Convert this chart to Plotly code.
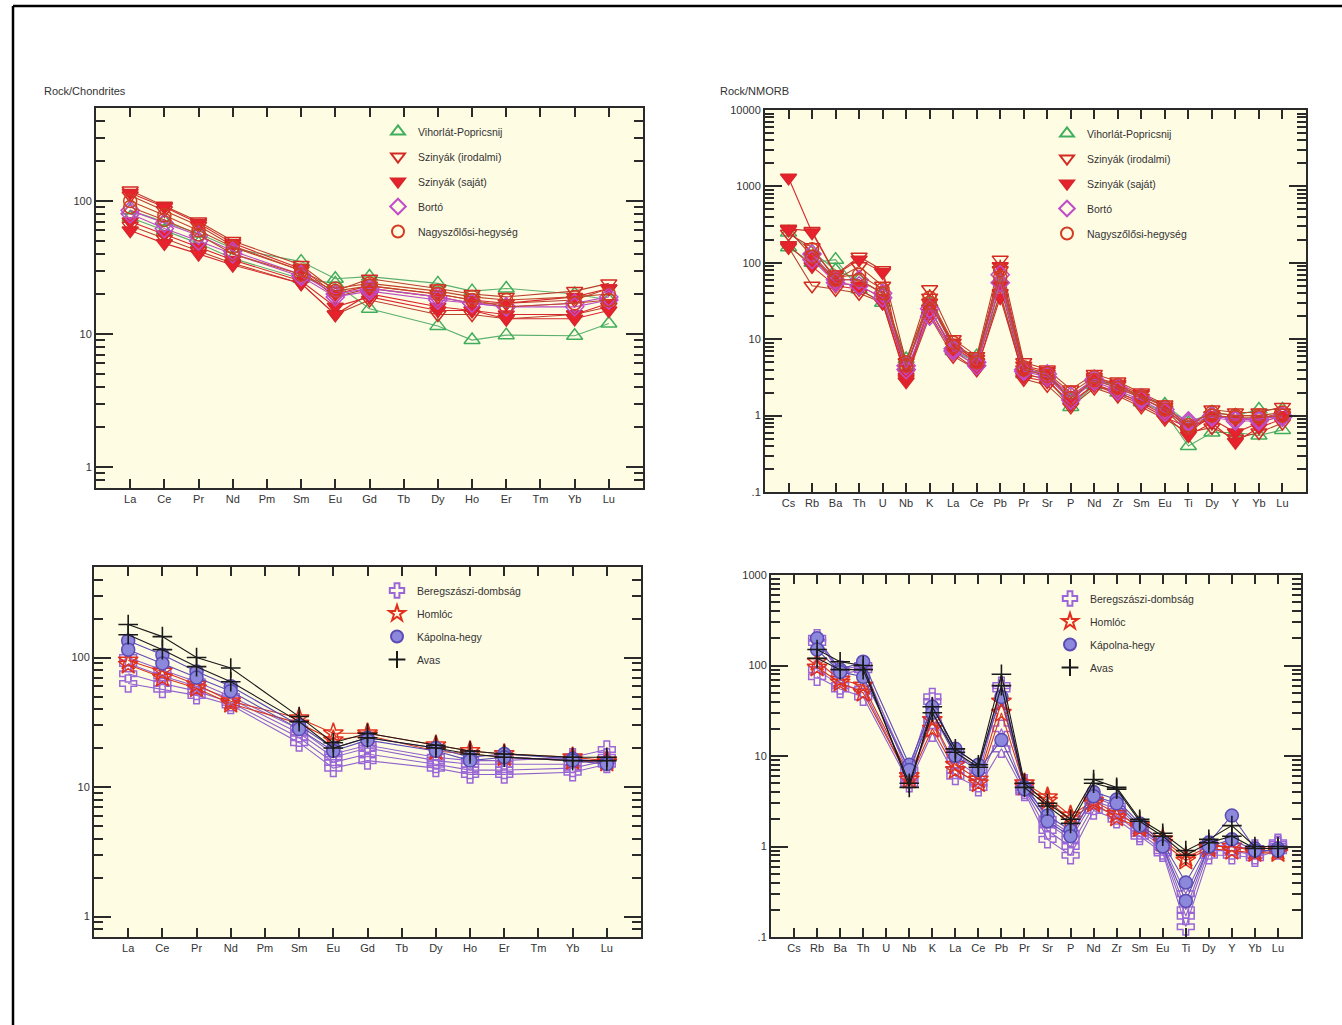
import math
import plotly.graph_objects as go

# ---------------------------------------------------------------- element labels
REE = ["La", "Ce", "Pr", "Nd", "Pm", "Sm", "Eu", "Gd", "Tb", "Dy", "Ho", "Er", "Tm", "Yb", "Lu"]
SPIDER = ["Cs", "Rb", "Ba", "Th", "U", "Nb", "K", "La", "Ce", "Pb", "Pr", "Sr", "P",
          "Nd", "Zr", "Sm", "Eu", "Ti", "Dy", "Y", "Yb", "Lu"]
N = None

# ---------------------------------------------------- chondrite-normalised REE (upper)
vihorlat_ree = [
    [75, 60, 48, 37, N, 26, 24, 15.5, N, 11.5, 9, 9.8, N, 9.7, 12],
    [85, 70, 57, 44, N, 35, 26, 27, N, 24, 21, 22, N, 20, 18],
]
szinyak_irod_ree = [
    [120, 92, 70, 50, N, 33, 21, 26, N, 22, 20, 19, N, 21, 24],
    [110, 85, 65, 46, N, 30, 19, 22, N, 19, 17, 17, N, 18, 22],
    [65, 52, 42, 34, N, 24, 14, 18, N, 14, 14, 13, N, 14, 16],
]
szinyak_sajat_ree = [
    [115, 90, 68, 48, N, 31, 20, 23, N, 20, 18, 17, N, 19, 22],
    [70, 56, 45, 36, N, 25, 16, 19, N, 15, 15, 14, N, 14, 17],
    [60, 48, 40, 33, N, 24, 14, 20, N, 16, 15, 13, N, 13, 15],
]
borto_ree = [
    [85, 68, 55, 42, N, 28, 20, 22, N, 19, 17, 16, N, 17, 19],
    [80, 62, 50, 40, N, 27, 19, 21, N, 18, 17, 16, N, 16, 18],
]
nagyszolos_ree = [
    [100, 78, 60, 45, N, 30, 22, 24, N, 21, 19, 18, N, 19, 20],
    [90, 72, 56, 40, N, 28, 21, 23, N, 20, 18, 16, N, 17, 18],
]

# ---------------------------------------------------------- N-MORB normalised (upper)
vihorlat_sp = [
    [160, 100, 110, 45, 30, 4.5, 25, 7, 5, 40, 3.5, 3, 1.3, 2.5, 2.0, 1.5, 1.1, 0.4, 0.6, 0.6, 0.55, 0.65],
    [250, 140, 80, 60, 40, 5.5, 30, 8, 6, 60, 4, 3.5, 1.6, 3, 2.4, 1.8, 1.4, 0.8, 1.1, 1.0, 1.2, 1.2],
]
szinyak_irod_sp = [
    [280, 260, 70, 120, 80, 5, 45, 10, 6, 110, 5, 4, 2.2, 3.5, 2.8, 2.0, 1.4, 0.7, 1.2, 1.1, 1.1, 1.3],
    [240, 160, 60, 90, 50, 4, 35, 8, 5.5, 80, 4, 3.5, 1.8, 3, 2.5, 1.7, 1.2, 0.6, 1.0, 0.9, 0.9, 1.1],
    [160, 50, 45, 40, 30, 3, 20, 6, 4, 40, 3, 2.5, 1.3, 2.3, 1.8, 1.3, 0.9, 0.6, 0.7, 0.5, 0.6, 0.8],
]
szinyak_sajat_sp = [
    [1300, 250, 70, 110, 75, 2.8, 30, 9, 5, 90, 4.5, 3.8, 1.5, 3.2, 2.6, 1.9, 1.3, 0.65, 1.0, 0.9, 0.9, 1.0],
    [270, 120, 55, 50, 35, 3.5, 25, 7, 4.5, 50, 3.5, 3, 1.4, 2.6, 2.0, 1.5, 1.0, 0.55, 0.8, 0.45, 0.7, 0.9],
    [170, 90, 50, 45, 30, 3.2, 22, 6.5, 4, 35, 3.2, 2.8, 1.5, 2.5, 1.9, 1.4, 0.95, 0.7, 0.9, 0.6, 0.8, 1.0],
]
borto_sp = [
    [N, 130, 60, 60, 40, 4.5, 25, 7.5, 5, 70, 4, 3.5, 1.8, 3, 2.3, 1.7, 1.2, 0.85, 1.0, 0.9, 0.9, 1.0],
    [N, 110, 55, 50, 35, 4, 20, 7, 4.5, 55, 3.8, 3.2, 1.6, 2.8, 2.1, 1.6, 1.1, 0.8, 0.95, 0.85, 0.85, 0.95],
]
nagyszolos_sp = [
    [N, 150, 65, 70, 45, 5, 35, 9, 5.5, 80, 4.3, 3.6, 2.0, 3.2, 2.5, 1.8, 1.3, 0.75, 1.1, 1.0, 1.0, 1.1],
    [N, 120, 60, 60, 40, 4.5, 30, 8, 5, 65, 4, 3.3, 1.7, 2.9, 2.3, 1.7, 1.2, 0.7, 1.0, 0.95, 0.95, 1.0],
]

# ---------------------------------------------------- chondrite-normalised REE (lower)
beregszasz_ree = [
    [63, 57, 51, 43, N, 22, 14, 16, N, 14, 12.5, 12.5, N, 13, 15],
    [75, 63, 55, 45, N, 24, 15.5, 18, N, 15, 13.5, 13.5, N, 14, 16],
    [90, 72, 60, 48, N, 26, 17, 20, N, 16, 15, 15, N, 15, 17],
    [100, 80, 65, 50, N, 28, 18, 21, N, 17, 16, 16, N, 17, 19.5],
]
homloc_ree = [
    [95, 78, 62, 46, N, 34, 26, 26, N, 21, 19, 18, N, 17, 16],
    [88, 70, 58, 44, N, 31, 23, 25, N, 19, 18, 17, N, 16, 15.5],
]
kapolna_ree = [
    [135, 105, 78, 60, N, 30, 20, 24, N, 20, 17, 18, N, 16.5, 15.5],
    [115, 90, 70, 55, N, 28, 19, 23, N, 19, 16, 17, N, 16, 15],
]
avas_ree = [
    [180, 145, 100, 83, N, 35, 22, 26, N, 21, 19, 18, N, 17, 17],
    [150, 115, 85, 65, N, 32, 20, 24, N, 20, 18, 17, N, 16, 16],
]

# ---------------------------------------------------------- N-MORB normalised (lower)
beregszasz_sp = [
    [N, 75, 55, 45, N, 5, 18, 6, 4.5, 12, 4, 1.2, 0.8, 2.5, 2, 1.3, 0.85, 0.13, 0.8, 0.8, 0.75, 0.9],
    [N, 90, 60, 55, N, 5.5, 25, 7, 5, 20, 4.2, 1.5, 1.0, 2.8, 2.2, 1.4, 0.9, 0.17, 0.9, 0.9, 0.8, 1.0],
    [N, 200, 80, 90, N, 7, 45, 9, 6, 55, 4.5, 1.8, 1.2, 3.2, 2.6, 1.5, 1.0, 0.2, 1.0, 1.0, 0.9, 1.1],
    [N, 180, 90, 100, N, 6, 40, 11, 7, 60, 5, 2.0, 1.4, 3.5, 2.8, 1.6, 1.05, 0.3, 1.05, 1.0, 0.95, 1.05],
]
homloc_sp = [
    [N, 110, 70, 60, N, 6, 25, 8, 5.5, 40, 5, 3.5, 2.2, 3.2, 2.3, 1.7, 1.2, 0.75, 1.0, 1.0, 0.9, 0.9],
    [N, 95, 65, 50, N, 5.5, 20, 7, 5, 30, 4.6, 3.2, 2.0, 3.0, 2.1, 1.6, 1.1, 0.7, 0.95, 0.9, 0.85, 0.85],
]
kapolna_sp = [
    [N, 200, 90, 110, N, 8, 35, 12, 8, 45, 4.5, 2.2, 1.5, 4, 3.3, 1.8, 1.1, 0.4, 1.1, 2.2, 0.95, 0.95],
    [N, 150, 85, 75, N, 7, 30, 10, 7, 15, 4.3, 1.9, 1.3, 3.6, 3.0, 1.7, 1.0, 0.25, 1.0, 1.2, 0.9, 0.9],
]
avas_sp = [
    [N, 150, 110, 100, N, 4.5, 35, 12, 8, 80, 5, 3, 2, 5.5, 4.5, 2, 1.4, 0.9, 1.2, 1.7, 1.0, 1.0],
    [N, 120, 90, 90, N, 5, 30, 11, 7.5, 60, 4.5, 2.8, 1.8, 5, 4.3, 1.9, 1.3, 0.8, 1.1, 1.3, 0.95, 0.95],
]

# ------------------------------------------------------------------ marker styles
STYLE = {
    "Vihorlát-Popricsnij": dict(symbol="triangle-up-open", color="#3FAE5C", line="#5BB06E", size=14),
    "Szinyák (irodalmi)": dict(symbol="triangle-down-open", color="#D42A22", line="#B8402C", size=14),
    "Szinyák (saját)": dict(symbol="triangle-down", color="#E8222C", line="#D8262C", size=14),
    "Bortó": dict(symbol="diamond-open", color="#C04CC8", line="#B84CC0", size=14),
    "Nagyszőlősi-hegység": dict(symbol="circle-open", color="#D23C22", line="#C0452A", size=13),
    "Beregszászi-dombság": dict(symbol="cross-open", color="#9A66D8", line="#8E62CC", size=14),
    "Homlóc": dict(symbol="star-open", color="#E2301E", line="#D8341E", size=15),
    "Kápolna-hegy": dict(symbol="circle", color="#8C88DC", line="#5A4CB4", size=13),
    "Avas": dict(symbol="cross-thin", color="#1A1A1A", line="#1A1A1A", size=14),
}

FONT = "Liberation Sans Narrow, Arial Narrow, Liberation Sans, sans-serif"
W, H = 1342, 1025

fig = go.Figure()


def marker_for(st):
    filled = st["symbol"] in ("triangle-down", "circle")
    m = dict(symbol=st["symbol"], size=st["size"], color=st["color"],
             line=dict(color=st["line"] if filled else st["color"], width=1.5))
    if st["symbol"] == "cross-thin":
        m["line"] = dict(color=st["color"], width=1.6)
    return m


def add_group(name, samples, labels, axis, legend):
    st = STYLE[name]
    for vals in samples:
        fig.add_trace(go.Scatter(
            x=labels, y=vals, mode="lines+markers", name=name, showlegend=False,
            connectgaps=True, line=dict(color=st["line"], width=1.1),
            marker=marker_for(st), xaxis="x" + axis, yaxis="y" + axis,
        ))
    # symbol-only legend key
    fig.add_trace(go.Scatter(
        x=[None], y=[None], mode="markers", name=name, legend=legend,
        legendgroup=f"{legend}-{name}", marker=marker_for(st),
        xaxis="x" + axis, yaxis="y" + axis,
    ))


add_group("Vihorlát-Popricsnij", vihorlat_ree, REE, "", "legend")
add_group("Szinyák (irodalmi)", szinyak_irod_ree, REE, "", "legend")
add_group("Szinyák (saját)", szinyak_sajat_ree, REE, "", "legend")
add_group("Bortó", borto_ree, REE, "", "legend")
add_group("Nagyszőlősi-hegység", nagyszolos_ree, REE, "", "legend")

add_group("Vihorlát-Popricsnij", vihorlat_sp, SPIDER, "2", "legend2")
add_group("Szinyák (irodalmi)", szinyak_irod_sp, SPIDER, "2", "legend2")
add_group("Szinyák (saját)", szinyak_sajat_sp, SPIDER, "2", "legend2")
add_group("Bortó", borto_sp, SPIDER, "2", "legend2")
add_group("Nagyszőlősi-hegység", nagyszolos_sp, SPIDER, "2", "legend2")

add_group("Beregszászi-dombság", beregszasz_ree, REE, "3", "legend3")
add_group("Homlóc", homloc_ree, REE, "3", "legend3")
add_group("Kápolna-hegy", kapolna_ree, REE, "3", "legend3")
add_group("Avas", avas_ree, REE, "3", "legend3")

add_group("Beregszászi-dombság", beregszasz_sp, SPIDER, "4", "legend4")
add_group("Homlóc", homloc_sp, SPIDER, "4", "legend4")
add_group("Kápolna-hegy", kapolna_sp, SPIDER, "4", "legend4")
add_group("Avas", avas_sp, SPIDER, "4", "legend4")


def px_x(px):
    return px / W


def px_y(py):
    return 1 - py / H


def minor_vals(lo, hi):
    out = []
    for e in range(lo, hi):
        out += [m * 10 ** e for m in range(2, 10)]
    return out


tickfont = dict(family=FONT, size=11, color="#333333")
AX = dict(showline=True, linecolor="#2A2A2A", linewidth=2, mirror="allticks",
          ticks="inside", tickcolor="#2A2A2A", tickwidth=1.5, showgrid=False,
          zeroline=False, tickfont=tickfont, automargin=False, fixedrange=True)


def xaxis(labels, x0, x1, anchor):
    return dict(AX, type="category", categoryorder="array", categoryarray=labels,
                range=[-1, len(labels)], ticklen=9, domain=[px_x(x0), px_x(x1)],
                anchor=anchor)


def yaxis(rng, vals, texts, y0, y1, anchor, lo, hi):
    return dict(AX, type="log", range=rng, tickmode="array", tickvals=vals, ticktext=texts,
                ticklen=17, domain=[px_y(y1), px_y(y0)], anchor=anchor,
                minor=dict(ticks="inside", ticklen=9, tickwidth=1.5, tickcolor="#2A2A2A",
                           tickmode="array", tickvals=minor_vals(lo, hi), showgrid=False))


ree_rng = [math.log10(0.695), math.log10(500)]

fig.update_layout(
    width=W, height=H, autosize=False, margin=dict(l=0, r=0, t=0, b=0, pad=0),
    paper_bgcolor="white", plot_bgcolor="#FFFCE4",
    font=dict(family=FONT, size=11, color="#333333"),
    xaxis=xaxis(REE, 96, 643, "y"),
    yaxis=yaxis(ree_rng, [1, 10, 100], ["1", "10", "100"], 108, 488, "x", -1, 3),
    xaxis2=xaxis(SPIDER, 765, 1306, "y2"),
    yaxis2=yaxis([-1, 4], [0.1, 1, 10, 100, 1000, 10000], [".1", "1", "10", "100", "1000", "10000"],
                 110, 492, "x2", -1, 4),
    xaxis3=xaxis(REE, 94, 641, "y3"),
    yaxis3=yaxis(ree_rng, [1, 10, 100], ["1", "10", "100"], 567, 937, "x3", -1, 3),
    xaxis4=xaxis(SPIDER, 771, 1301, "y4"),
    yaxis4=yaxis([-1, 3], [0.1, 1, 10, 100, 1000], [".1", "1", "10", "100", "1000"],
                 575, 937, "x4", -1, 3),
)

legend_common = dict(bgcolor="rgba(0,0,0,0)", borderwidth=0,
                     font=dict(family=FONT, size=10.5, color="#333"),
                     xanchor="left", yanchor="top", itemsizing="constant",
                     tracegroupgap=6, itemwidth=30)
fig.update_layout(
    legend=dict(legend_common, x=px_x(378), y=px_y(117)),
    legend2=dict(legend_common, x=px_x(1047), y=px_y(119)),
    legend3=dict(legend_common, x=px_x(377), y=px_y(576), tracegroupgap=4),
    legend4=dict(legend_common, x=px_x(1050), y=px_y(584), tracegroupgap=4),
)

# panel captions
for txt, x, y in [("Rock/Chondrites", 42, 91), ("Rock/NMORB", 718, 91)]:
    fig.add_annotation(text=txt, x=px_x(x), y=px_y(y), xref="paper", yref="paper",
                       xanchor="left", yanchor="middle", showarrow=False,
                       font=dict(family=FONT, size=11, color="#333333"))

# page frame: left and top edges
fig.add_shape(type="line", xref="paper", yref="paper", x0=px_x(13), x1=px_x(13),
              y0=0, y1=px_y(6), line=dict(color="black", width=2.5))
fig.add_shape(type="line", xref="paper", yref="paper", x0=px_x(13), x1=1,
              y0=px_y(6), y1=px_y(6), line=dict(color="black", width=2.5))

fig.write_html("out.html")
